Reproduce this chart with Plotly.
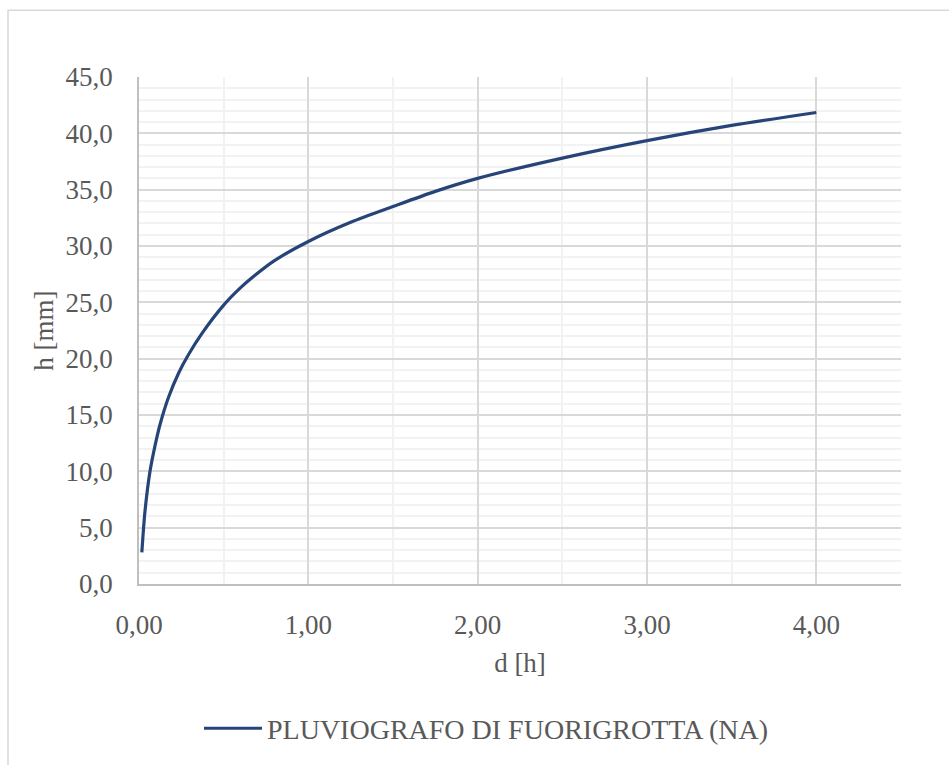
import plotly.graph_objects as go

# Durata d [h] e altezza di pioggia h [mm] lette lungo la curva
durata_h = [0.0167, 0.035, 0.065, 0.095, 0.125, 0.175, 0.235, 0.29, 0.37, 0.5,
            0.6, 0.685, 0.8, 1.0, 1.25, 1.5, 1.75, 2.0, 2.5, 3.0, 3.5, 4.0]
altezza_mm = [2.8, 6.4, 10.0, 12.3, 14.2, 16.6, 18.75, 20.3, 22.2, 24.75,
              26.3, 27.4, 28.7, 30.4, 32.1, 33.5, 34.85, 36.0, 37.8, 39.35, 40.7, 41.85]

serie_nome = "PLUVIOGRAFO DI FUORIGROTTA (NA)"
x_ticks = [0, 1, 2, 3, 4]
x_labels = ["0,00", "1,00", "2,00", "3,00", "4,00"]
y_ticks = [0, 5, 10, 15, 20, 25, 30, 35, 40, 45]
y_labels = ["0,0", "5,0", "10,0", "15,0", "20,0", "25,0", "30,0", "35,0", "40,0", "45,0"]

FONT = "Liberation Serif"
TXT = "#595959"
FS = 27

W, H = 949, 765
L, R, T, B = 139, 48, 77, 176
pw, ph = W - L - R, H - T - B


def px_x(p):
    return (p - L) / pw


def px_y(p):
    return (H - B - p) / ph


fig = go.Figure()
fig.add_trace(go.Scatter(
    x=durata_h, y=altezza_mm, mode="lines", name=serie_nome,
    line=dict(color="#264478", width=3.2, shape="spline", smoothing=0.8),
))

fig.update_layout(
    width=W, height=H,
    margin=dict(l=L, r=R, t=T, b=B),
    paper_bgcolor="white", plot_bgcolor="white",
    font=dict(family=FONT, color=TXT, size=FS),
    showlegend=True,
    legend=dict(orientation="h", x=px_x(199), xanchor="left", y=px_y(735), yanchor="middle",
                itemwidth=58,
                font=dict(family=FONT, size=28, color=TXT), bgcolor="rgba(0,0,0,0)"),
    shapes=[dict(type="rect", xref="paper", yref="paper",
                 x0=px_x(8), x1=px_x(958), y0=px_y(780), y1=px_y(9.5),
                 line=dict(color="#d9d9d9", width=1.5), layer="below")],
)

fig.update_xaxes(
    range=[0, 4.5], tickvals=x_ticks, ticktext=x_labels,
    showgrid=True, gridcolor="#d9d9d9", gridwidth=1.5,
    minor=dict(dtick=0.5, showgrid=True, gridcolor="#f2f2f2", gridwidth=1.5),
    showline=True, linecolor="#bfbfbf", linewidth=1.5,
    zeroline=False, ticks="", ticklabelstandoff=16,
    tickfont=dict(family=FONT, size=FS, color=TXT),
    title=dict(text="d [h]", font=dict(family=FONT, size=FS, color=TXT), standoff=14),
)
fig.update_yaxes(
    range=[0, 45], tickvals=y_ticks, ticktext=y_labels,
    showgrid=True, gridcolor="#d9d9d9", gridwidth=1.5,
    minor=dict(dtick=1, showgrid=True, gridcolor="#f2f2f2", gridwidth=1.5),
    showline=True, linecolor="#bfbfbf", linewidth=1.5,
    zeroline=False, ticks="", ticklabelstandoff=19,
    tickfont=dict(family=FONT, size=FS, color=TXT),
    title=dict(text="h [mm]", font=dict(family=FONT, size=FS, color=TXT), standoff=4),
)

fig.write_html("out.html")
